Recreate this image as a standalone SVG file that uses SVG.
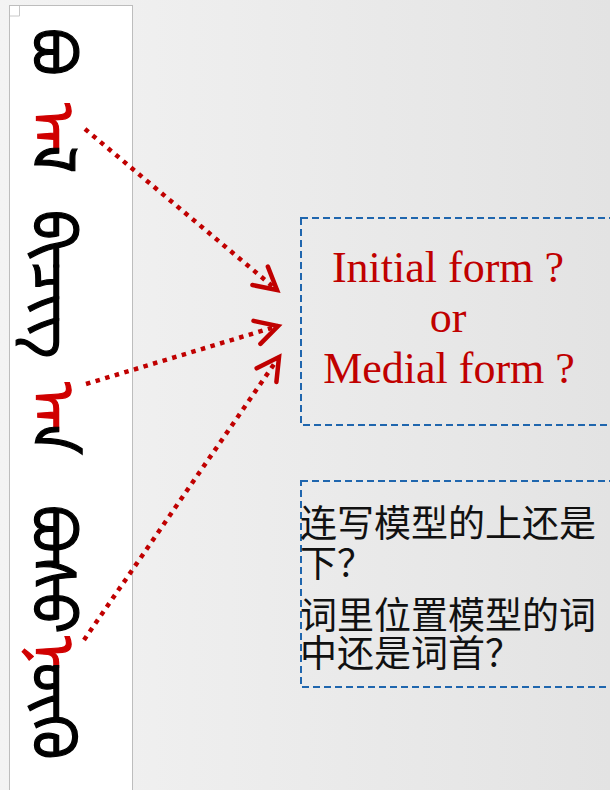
<svg xmlns="http://www.w3.org/2000/svg" width="610" height="790" viewBox="0 0 610 790">
  <defs>
    <linearGradient id="bg" x1="0" y1="0" x2="1" y2="0">
      <stop offset="0" stop-color="#f3f3f3"/>
      <stop offset="1" stop-color="#e3e3e3"/>
    </linearGradient>
    <marker id="chev" markerUnits="userSpaceOnUse" markerWidth="40" markerHeight="40" viewBox="-30 -20 40 40" refX="0" refY="0" orient="auto">
      <path d="M -22 -12 L 0 0 L -22 12" fill="none" stroke="#c00000" stroke-width="4.5" stroke-linecap="round" stroke-linejoin="miter" stroke-dasharray="none"/>
    </marker>
    <style>
      .conn { fill: none; stroke: #c00000; stroke-width: 4.5; stroke-dasharray: 4.5 5.5; }
      .box { fill: none; stroke: #1f66ae; stroke-width: 2; stroke-dasharray: 7 4; }
      .en { font-family: "Liberation Serif", "DejaVu Serif", serif; font-size: 44px; fill: #c00000; text-anchor: middle; }
      .zh { font-family: "Liberation Serif", "Noto Sans CJK SC", sans-serif; font-size: 37px; fill: #111111; }
      .mn { font-family: "Noto Sans Mongolian", "DejaVu Sans", sans-serif; font-size: 60px; fill: #000000; stroke: #000000; stroke-width: 1.2; }
      .red { fill: #d00000; stroke: #d00000; }
    </style>
  </defs>

  <rect x="0" y="0" width="610" height="790" fill="url(#bg)"/>

  <g id="mongolian-strip">
    <rect x="9.5" y="5.5" width="123" height="790" fill="#ffffff" stroke="#bdbdbd" stroke-width="1"/>
    <polyline points="10,16 19.5,16 19.5,6" fill="none" stroke="#c8c8c8" stroke-width="1"/>
    <text class="mn" transform="translate(32,28) rotate(90)">ᠪᠣ</text>
    <text class="mn" transform="translate(32,103) rotate(90)"><tspan class="red">ᠠ</tspan>ᠯ</text>
    <text class="mn" transform="translate(32,210) rotate(90)">ᠪᠢᠴᠢᠭ</text>
    <text class="mn" transform="translate(32,382) rotate(90)"><tspan class="red">ᠠ</tspan>ᠨ</text>
    <text class="mn" transform="translate(32,505) rotate(90)">ᠪᠤᠰᠤ</text>
    <text class="mn" transform="translate(32,636) rotate(90)"><tspan class="red">ᠨ</tspan>ᠥᠬᠥ</text>
  </g>

  <g id="connectors">
    <path class="conn" d="M 85 129 L 277 290" marker-end="url(#chev)"/>
    <path class="conn" d="M 86 384 L 278 326" marker-end="url(#chev)"/>
    <path class="conn" d="M 84 640 L 279 357" marker-end="url(#chev)"/>
  </g>

  <g id="box-forms">
    <rect class="box" x="301" y="218" width="330" height="207"/>
    <text class="en" x="448" y="282">Initial form ?</text>
    <text class="en" x="448" y="332">or</text>
    <text class="en" x="449" y="383">Medial form ?</text>
  </g>

  <g id="box-questions">
    <rect class="box" x="301" y="481" width="330" height="206"/>
    <text class="zh" x="300" y="537">连写模型的上还是</text>
    <text class="zh" x="300" y="577">下？</text>
    <text class="zh" x="300" y="629">词里位置模型的词</text>
    <text class="zh" x="300" y="667">中还是词首？</text>
  </g>
</svg>
